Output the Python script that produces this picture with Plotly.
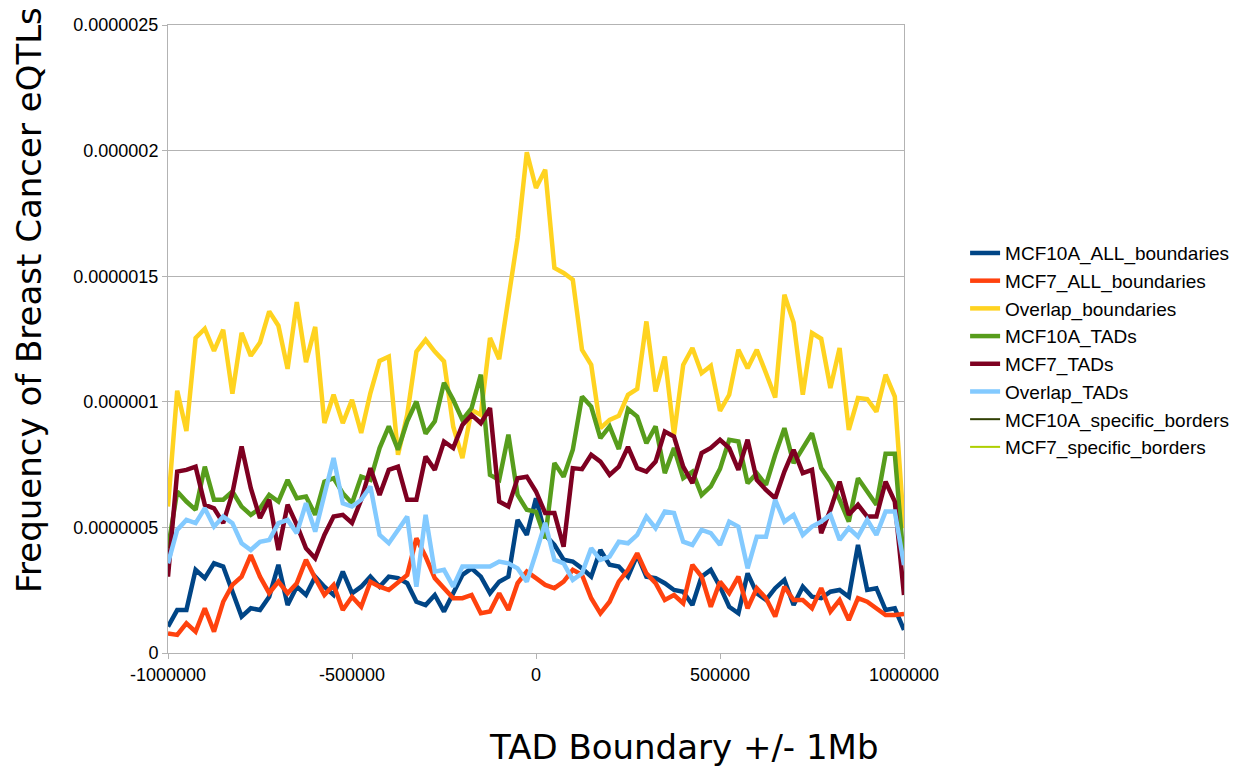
import plotly.graph_objects as go

# x positions: distance from TAD boundary (bp)
positions = list(range(-1000000, 1000001, 25000))

mcf10a_all_boundaries = [
    1.05e-7, 1.71e-7, 1.71e-7, 3.31e-7, 2.98e-7, 3.57e-7, 3.44e-7, 2.38e-7, 1.45e-7, 1.78e-7,
    1.71e-7, 2.24e-7, 3.51e-7, 1.91e-7, 2.64e-7, 2.31e-7, 3.04e-7, 2.64e-7, 2.31e-7, 3.24e-7,
    2.38e-7, 2.64e-7, 3.04e-7, 2.64e-7, 3.04e-7, 2.98e-7, 2.78e-7, 2.04e-7, 1.91e-7, 2.31e-7,
    1.65e-7, 2.38e-7, 3.11e-7, 3.37e-7, 3.04e-7, 2.38e-7, 2.84e-7, 3.04e-7, 5.30e-7, 4.70e-7,
    6.16e-7, 4.70e-7, 4.30e-7, 3.71e-7, 3.64e-7, 3.37e-7, 3.04e-7, 4.10e-7, 3.51e-7, 3.44e-7,
    3.04e-7, 3.90e-7, 3.04e-7, 2.98e-7, 2.78e-7, 2.51e-7, 2.44e-7, 1.91e-7, 3.04e-7, 3.31e-7,
    2.64e-7, 1.84e-7, 1.58e-7, 3.17e-7, 2.38e-7, 2.11e-7, 2.58e-7, 2.91e-7, 1.91e-7, 2.64e-7,
    2.24e-7, 2.18e-7, 2.44e-7, 2.51e-7, 2.24e-7, 4.30e-7, 2.51e-7, 2.58e-7, 1.71e-7, 1.78e-7,
    0.92e-7,
]

mcf7_all_boundaries = [
    0.78e-7, 0.72e-7, 1.18e-7, 0.85e-7, 1.78e-7, 0.85e-7, 2.04e-7, 2.71e-7, 3.04e-7, 3.90e-7,
    3.04e-7, 2.38e-7, 2.84e-7, 2.38e-7, 2.78e-7, 3.71e-7, 2.98e-7, 2.31e-7, 2.71e-7, 1.71e-7,
    2.24e-7, 1.84e-7, 2.84e-7, 2.64e-7, 2.51e-7, 2.84e-7, 3.11e-7, 4.57e-7, 3.84e-7, 2.98e-7,
    2.58e-7, 2.18e-7, 2.18e-7, 2.31e-7, 1.58e-7, 1.65e-7, 2.38e-7, 1.71e-7, 2.78e-7, 3.24e-7,
    2.98e-7, 2.71e-7, 2.58e-7, 2.84e-7, 3.31e-7, 3.11e-7, 2.18e-7, 1.58e-7, 2.04e-7, 2.84e-7,
    3.31e-7, 3.97e-7, 3.17e-7, 2.78e-7, 2.11e-7, 2.31e-7, 1.98e-7, 3.51e-7, 3.04e-7, 1.84e-7,
    2.84e-7, 2.38e-7, 3.04e-7, 1.78e-7, 2.58e-7, 2.18e-7, 1.45e-7, 2.64e-7, 2.11e-7, 2.11e-7,
    1.78e-7, 2.58e-7, 1.65e-7, 2.11e-7, 1.31e-7, 2.18e-7, 2.04e-7, 1.78e-7, 1.51e-7, 1.51e-7,
    1.55e-7,
]

overlap_boundaries = [
    5.83e-7, 10.44e-7, 8.84e-7, 12.54e-7, 12.91e-7, 12.03e-7, 12.87e-7, 10.32e-7, 12.75e-7, 11.83e-7,
    12.36e-7, 13.60e-7, 13.03e-7, 11.31e-7, 13.97e-7, 11.58e-7, 12.98e-7, 9.15e-7, 10.28e-7, 9.15e-7,
    10.08e-7, 8.76e-7, 10.35e-7, 11.63e-7, 11.80e-7, 7.89e-7, 9.48e-7, 12.00e-7, 12.47e-7, 12.00e-7,
    11.61e-7, 9.02e-7, 7.76e-7, 9.68e-7, 9.48e-7, 12.54e-7, 11.70e-7, 14.26e-7, 16.52e-7, 19.93e-7,
    18.51e-7, 19.24e-7, 15.33e-7, 15.13e-7, 14.86e-7, 12.07e-7, 11.47e-7, 8.95e-7, 9.28e-7, 9.44e-7,
    10.28e-7, 10.51e-7, 13.20e-7, 10.41e-7, 11.80e-7, 8.69e-7, 11.47e-7, 12.14e-7, 11.14e-7, 11.43e-7,
    9.64e-7, 10.28e-7, 12.07e-7, 11.34e-7, 12.07e-7, 11.14e-7, 10.17e-7, 14.26e-7, 13.16e-7, 10.28e-7,
    12.74e-7, 12.51e-7, 10.55e-7, 12.14e-7, 8.88e-7, 10.15e-7, 10.11e-7, 9.61e-7, 11.08e-7, 10.21e-7,
    4.97e-7,
]

mcf10a_tads = [
    4.17e-7, 6.43e-7, 6.03e-7, 5.70e-7, 7.42e-7, 6.10e-7, 6.10e-7, 6.43e-7, 5.83e-7, 5.50e-7,
    5.76e-7, 6.29e-7, 6.03e-7, 6.89e-7, 6.16e-7, 6.23e-7, 5.50e-7, 6.82e-7, 6.96e-7, 6.36e-7,
    5.96e-7, 7.02e-7, 6.89e-7, 8.16e-7, 9.02e-7, 8.09e-7, 9.22e-7, 10.01e-7, 8.73e-7, 9.22e-7,
    10.76e-7, 10.08e-7, 9.28e-7, 9.75e-7, 11.08e-7, 7.09e-7, 6.89e-7, 8.69e-7, 6.29e-7, 5.70e-7,
    5.62e-7, 4.57e-7, 7.56e-7, 7.02e-7, 8.09e-7, 10.21e-7, 9.81e-7, 8.55e-7, 9.02e-7, 8.12e-7,
    9.71e-7, 9.41e-7, 8.35e-7, 9.02e-7, 7.16e-7, 8.16e-7, 6.96e-7, 7.22e-7, 6.29e-7, 6.63e-7,
    7.33e-7, 8.49e-7, 8.42e-7, 6.76e-7, 7.16e-7, 6.69e-7, 7.89e-7, 8.95e-7, 7.56e-7, 8.16e-7,
    8.75e-7, 7.36e-7, 6.82e-7, 6.10e-7, 5.23e-7, 6.96e-7, 6.43e-7, 5.90e-7, 7.93e-7, 7.93e-7,
    3.51e-7,
]

mcf7_tads = [
    3.04e-7, 7.22e-7, 7.29e-7, 7.42e-7, 5.90e-7, 5.76e-7, 5.17e-7, 6.36e-7, 8.22e-7, 6.56e-7,
    5.37e-7, 6.10e-7, 4.10e-7, 5.90e-7, 5.10e-7, 4.17e-7, 3.77e-7, 4.70e-7, 5.43e-7, 5.50e-7,
    5.18e-7, 6.10e-7, 7.36e-7, 6.29e-7, 7.29e-7, 7.42e-7, 6.10e-7, 6.10e-7, 7.82e-7, 7.29e-7,
    8.42e-7, 8.16e-7, 9.08e-7, 9.48e-7, 9.15e-7, 9.75e-7, 6.03e-7, 5.83e-7, 6.96e-7, 7.02e-7,
    6.43e-7, 5.57e-7, 5.57e-7, 4.23e-7, 7.36e-7, 7.32e-7, 7.89e-7, 7.62e-7, 7.09e-7, 7.42e-7,
    8.20e-7, 7.36e-7, 7.22e-7, 7.62e-7, 8.82e-7, 8.62e-7, 7.42e-7, 6.76e-7, 7.96e-7, 8.16e-7,
    8.49e-7, 8.16e-7, 7.29e-7, 8.49e-7, 6.89e-7, 6.49e-7, 6.16e-7, 7.22e-7, 8.09e-7, 7.16e-7,
    7.29e-7, 4.77e-7, 5.70e-7, 6.82e-7, 5.50e-7, 5.90e-7, 5.43e-7, 5.43e-7, 6.82e-7, 6.03e-7,
    2.31e-7,
]

overlap_tads = [
    3.57e-7, 4.90e-7, 5.30e-7, 5.17e-7, 5.76e-7, 5.03e-7, 5.43e-7, 5.17e-7, 4.37e-7, 4.10e-7,
    4.43e-7, 4.50e-7, 5.17e-7, 5.30e-7, 4.77e-7, 5.96e-7, 4.83e-7, 6.36e-7, 7.76e-7, 5.96e-7,
    5.83e-7, 6.10e-7, 6.63e-7, 4.70e-7, 4.37e-7, 4.90e-7, 5.43e-7, 2.64e-7, 5.50e-7, 3.24e-7,
    3.31e-7, 2.64e-7, 3.44e-7, 3.44e-7, 3.44e-7, 3.44e-7, 3.64e-7, 3.57e-7, 3.37e-7, 2.84e-7,
    3.98e-7, 5.18e-7, 3.71e-7, 3.57e-7, 2.91e-7, 3.17e-7, 4.17e-7, 3.71e-7, 3.84e-7, 4.43e-7,
    4.37e-7, 4.70e-7, 5.43e-7, 4.97e-7, 5.63e-7, 5.57e-7, 4.43e-7, 4.30e-7, 4.90e-7, 4.77e-7,
    4.30e-7, 5.23e-7, 5.03e-7, 3.37e-7, 4.63e-7, 4.63e-7, 6.10e-7, 5.23e-7, 5.50e-7, 4.70e-7,
    5.03e-7, 5.23e-7, 5.50e-7, 4.50e-7, 4.97e-7, 4.63e-7, 5.30e-7, 4.70e-7, 5.63e-7, 5.63e-7,
    3.50e-7,
]

# Series listed in the legend but with no plotted values
mcf10a_specific_borders = []
mcf7_specific_borders = []

series = [
    ("MCF10A_ALL_boundaries", mcf10a_all_boundaries, "#004586", 4.5),
    ("MCF7_ALL_boundaries", mcf7_all_boundaries, "#ff420e", 4.5),
    ("Overlap_boundaries", overlap_boundaries, "#ffd320", 4.5),
    ("MCF10A_TADs", mcf10a_tads, "#579d1c", 4.5),
    ("MCF7_TADs", mcf7_tads, "#7e0021", 4.5),
    ("Overlap_TADs", overlap_tads, "#83caff", 4.5),
    ("MCF10A_specific_borders", mcf10a_specific_borders, "#314004", 2),
    ("MCF7_specific_borders", mcf7_specific_borders, "#aecf00", 2),
]

y_tick_vals = [0, 5e-7, 1e-6, 1.5e-6, 2e-6, 2.5e-6]
y_tick_text = ["0", "0.0000005", "0.000001", "0.0000015", "0.000002", "0.0000025"]
x_tick_vals = [-1000000, -500000, 0, 500000, 1000000]
x_tick_text = ["-1000000", "-500000", "0", "500000", "1000000"]

fig = go.Figure()
for name, vals, color, width in series:
    xs = positions[:len(vals)] if vals else [None]
    ys = vals if vals else [None]
    fig.add_trace(go.Scatter(
        x=xs, y=ys, mode="lines", name=name,
        line=dict(color=color, width=width),
        showlegend=True,
    ))

tick_font = dict(family="Liberation Sans, Arial, sans-serif", size=18, color="#000000")

fig.update_layout(
    width=1259, height=767,
    margin=dict(l=168, r=355, t=25, b=114),
    paper_bgcolor="white", plot_bgcolor="white",
    showlegend=True,
    legend=dict(
        x=1.083, y=0.667, xanchor="left", yanchor="top",
        font=dict(family="Liberation Sans, Arial, sans-serif", size=19, color="#000000"),
        itemwidth=30, tracegroupgap=0, bgcolor="rgba(0,0,0,0)",
    ),
    xaxis=dict(
        range=[-1000000, 1000000], tickvals=x_tick_vals, ticktext=x_tick_text,
        showgrid=False, zeroline=False, showline=True, linecolor="#b3b3b3", linewidth=1,
        mirror=True, ticks="outside", ticklen=5, tickcolor="#b3b3b3",
        tickfont=tick_font,
    ),
    yaxis=dict(
        range=[0, 2.5e-6], tickvals=y_tick_vals, ticktext=y_tick_text,
        showgrid=True, gridcolor="#b3b3b3", gridwidth=1, zeroline=False,
        showline=True, linecolor="#b3b3b3", linewidth=1, mirror=True,
        ticks="outside", ticklen=5, tickcolor="#b3b3b3",
        tickfont=tick_font,
    ),
    annotations=[
        dict(text="TAD Boundary +/- 1Mb", xref="paper", yref="paper",
             x=(684 - 168) / 736, y=-(747 - 653) / 628, xanchor="center", yanchor="middle",
             showarrow=False,
             font=dict(family="DejaVu Sans, sans-serif", size=34, color="#000000")),
        dict(text="Frequency of Breast Cancer eQTLs", xref="paper", yref="paper",
             x=-(168 - 29) / 736, y=(653 - 300) / 628, xanchor="center", yanchor="middle",
             textangle=-90, showarrow=False,
             font=dict(family="DejaVu Sans, sans-serif", size=34, color="#000000")),
    ],
)

fig.write_html("out.html")
